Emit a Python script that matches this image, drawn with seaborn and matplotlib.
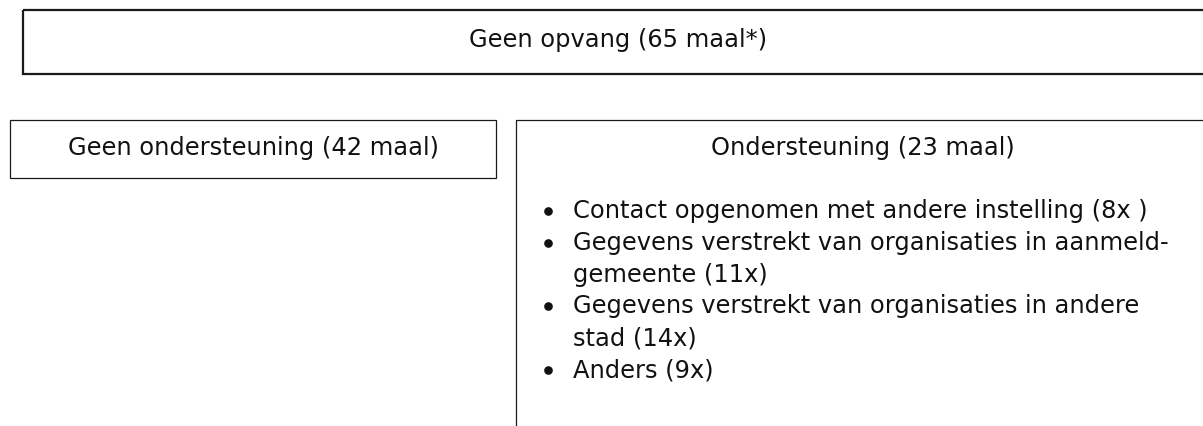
"""
Flow diagram: opvang / ondersteuning breakdown, drawn as boxes with text.
"""
import matplotlib
matplotlib.use("Agg")
import matplotlib.pyplot as plt
from matplotlib.patches import Rectangle
import seaborn as sns

# Data
top_label = "Geen opvang"
top_count = 65
branch_labels = ["Geen ondersteuning", "Ondersteuning"]
branch_counts = [42, 23]
support_items = [
    ["Contact opgenomen met andere instelling"],
    ["Gegevens verstrekt van organisaties in aanmeld-", "gemeente"],
    ["Gegevens verstrekt van organisaties in andere", "stad"],
    ["Anders"],
]
support_tags = ["8x ", "11x", "14x", "9x"]

sns.set_theme(style="white")
plt.rcParams["font.family"] = ["DejaVu Sans"]

W, H = 1203, 426
fig = plt.figure(figsize=(W / 100, H / 100), dpi=100)
ax = fig.add_axes([0, 0, 1, 1])
ax.set_xlim(0, W)
ax.set_ylim(H, 0)
ax.axis("off")

edge = "#1a1a1a"
ink = "#111111"
fs = 17.4

# Top box (runs off the right edge)
ax.add_patch(Rectangle((23, 10), 1300, 64, fill=False, ec=edge, lw=1.6))
ax.text(618, 47, f"{top_label} ({top_count} maal*)", ha="center", va="baseline",
        fontsize=fs, color=ink)

# Left branch box
ax.add_patch(Rectangle((10, 120), 486, 58, fill=False, ec=edge, lw=0.9))
ax.text(253, 155, f"{branch_labels[0]} ({branch_counts[0]} maal)", ha="center",
        va="baseline", fontsize=fs, color=ink)

# Right branch box (runs off right and bottom)
ax.add_patch(Rectangle((516, 120), 900, 400, fill=False, ec=edge, lw=0.9))
ax.text(863, 155, f"{branch_labels[1]} ({branch_counts[1]} maal)", ha="center",
        va="baseline", fontsize=fs, color=ink)

# Bullet list
y = 218
step = 31.8
for lines, tag in zip(support_items, support_tags):
    lines = list(lines)
    lines[-1] = f"{lines[-1]} ({tag})"
    ax.plot([548], [y - 7], "o", ms=5.2, color=ink)
    for line in lines:
        ax.text(573, y, line, ha="left", va="baseline", fontsize=fs, color=ink)
        y += step

fig.savefig("out.png", dpi=100, facecolor="white")
plt.close(fig)
